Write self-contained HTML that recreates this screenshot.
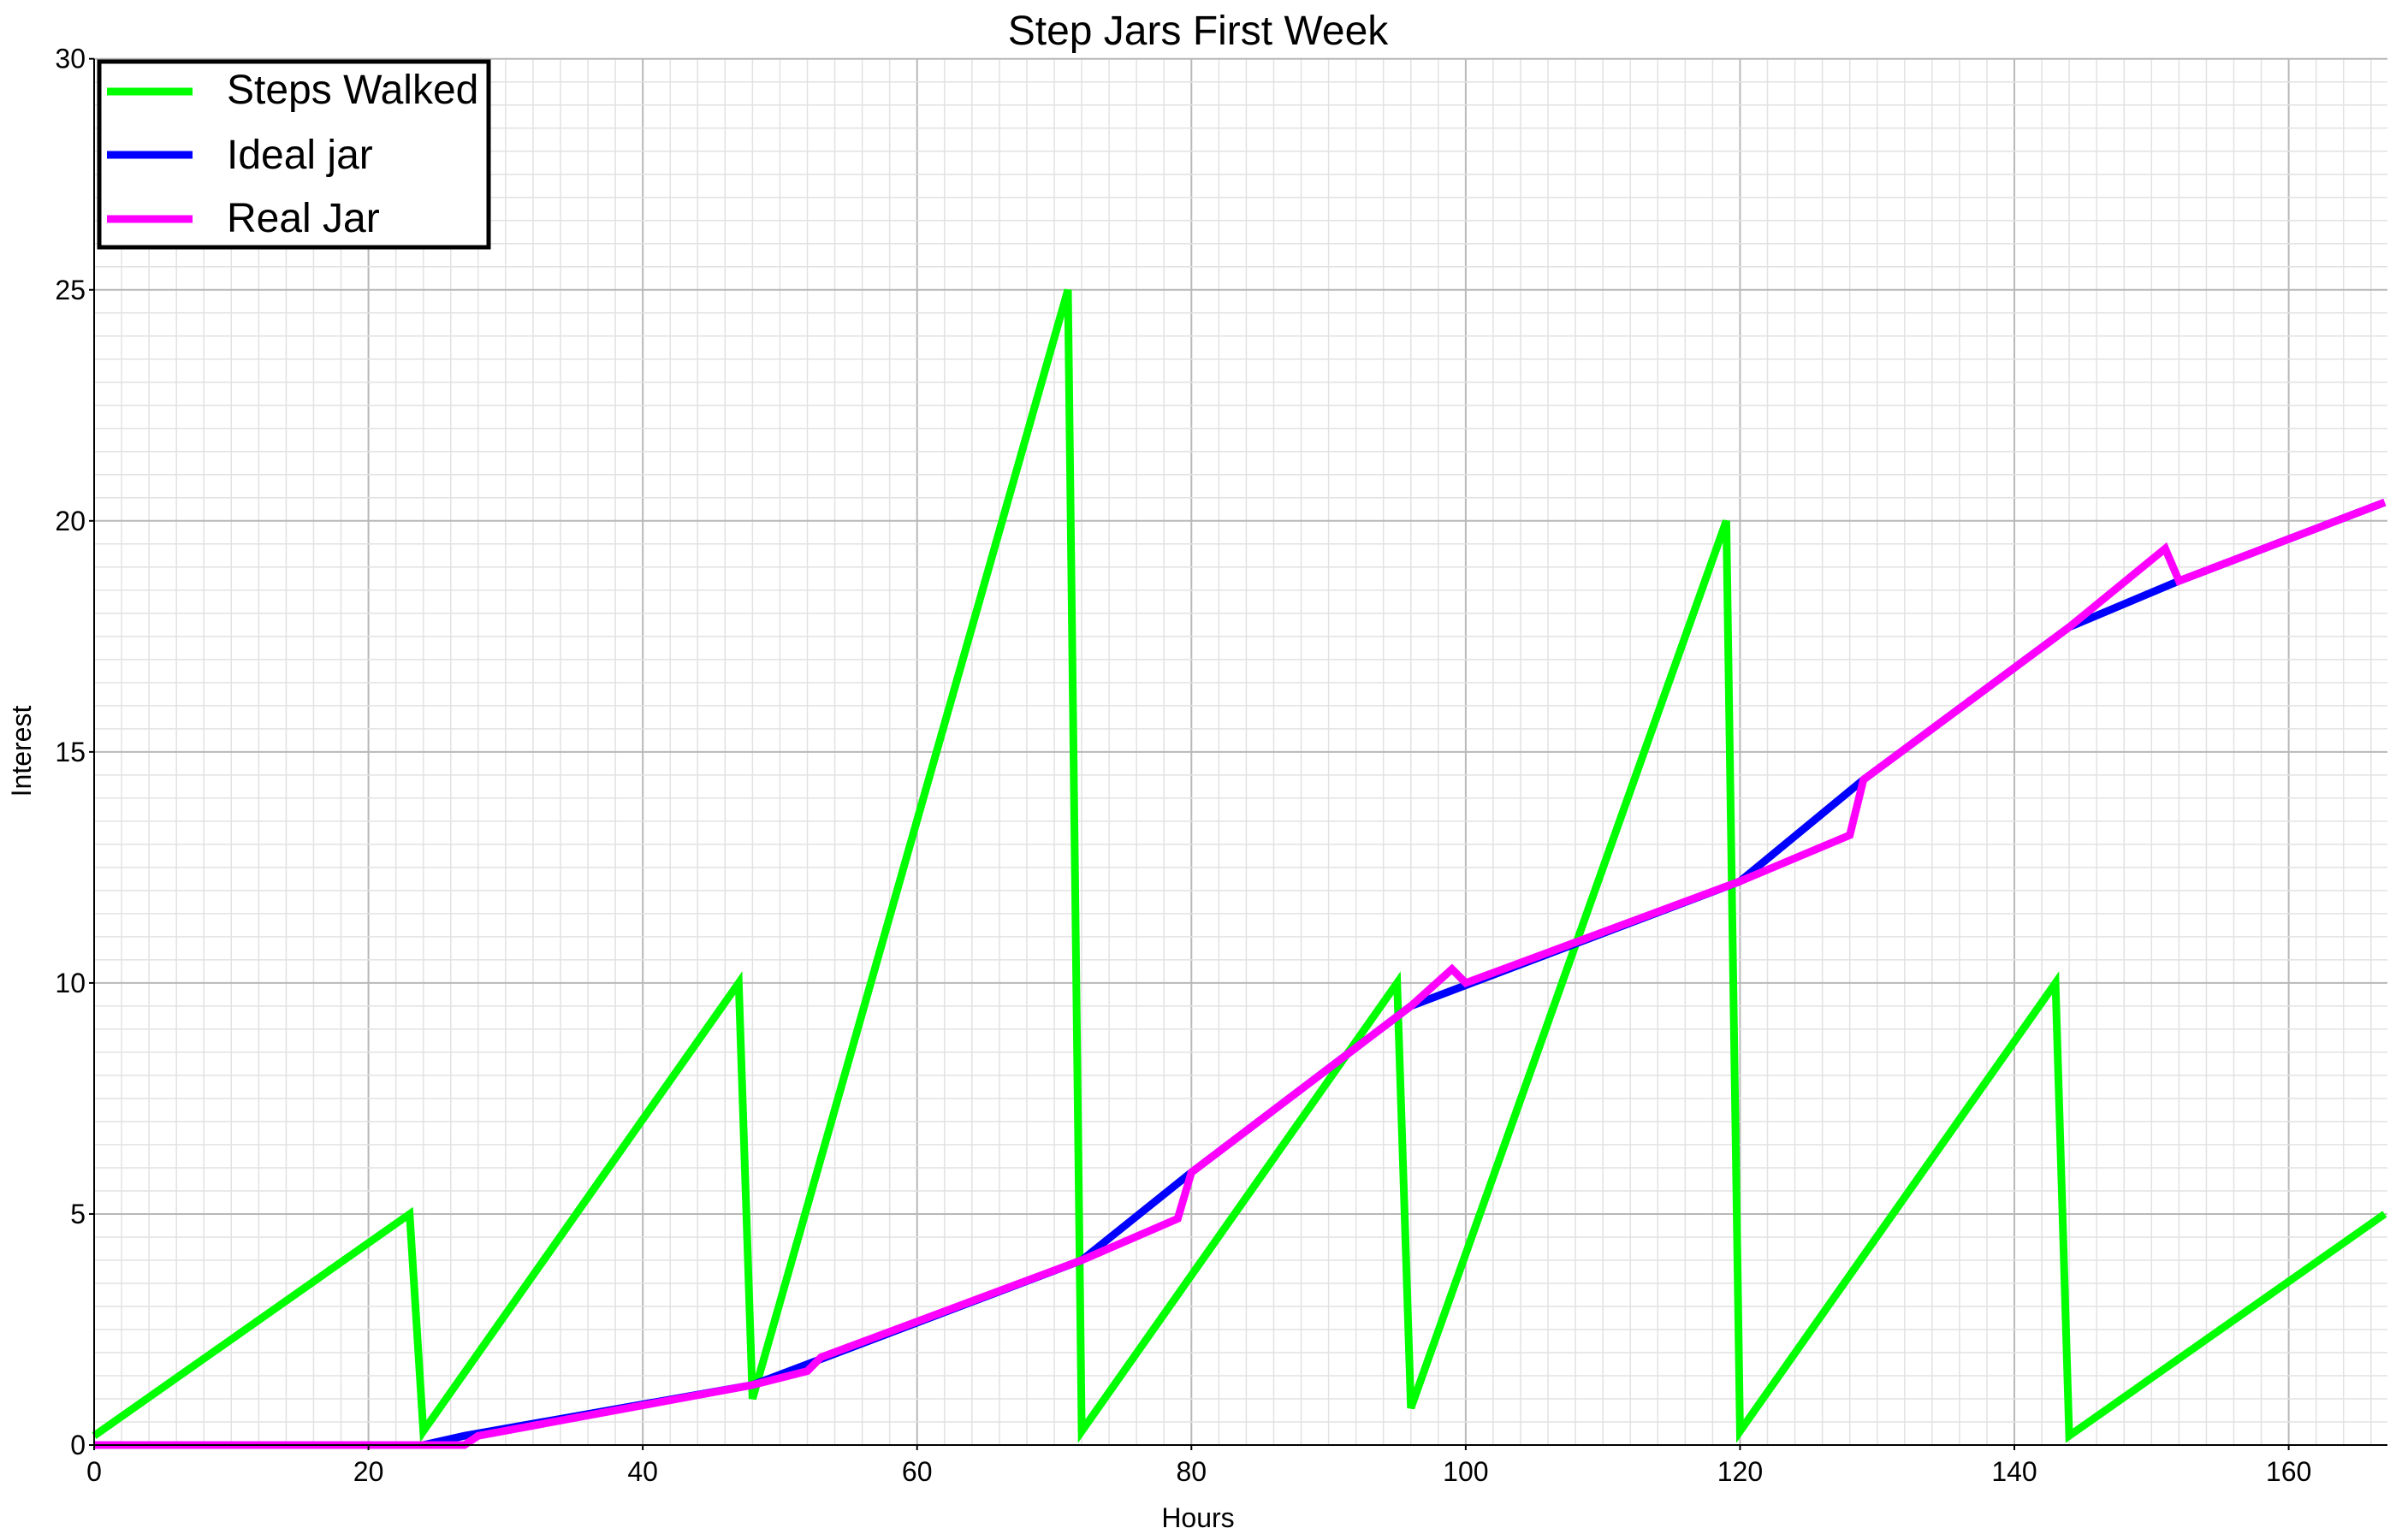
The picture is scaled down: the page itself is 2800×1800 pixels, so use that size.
<!DOCTYPE html>
<html><head><meta charset="utf-8"><style>
html,body{margin:0;padding:0;background:#fff}
svg{display:block;font-family:"Liberation Sans",Arial,sans-serif}
</style></head><body>
<svg id="chart" width="2800" height="1800" viewBox="0 0 2800 1800">
<text x="1400" y="52" text-anchor="middle" font-size="48">Step Jars First Week</text>
<g id="grid"></g>
<g id="series"></g>
<g id="axes"></g>
<text x="1400" y="1785" text-anchor="middle" font-size="32">Hours</text>
<text x="36" y="878" text-anchor="middle" font-size="32" transform="rotate(-90 36 878)">Interest</text>
<g>
<rect x="116" y="72" width="455" height="217" fill="#fff" stroke="#000" stroke-width="5"/>
<line x1="125" y1="107" x2="225" y2="107" stroke="#00ff00" stroke-width="9"/>
<text x="265" y="121" font-size="48">Steps Walked</text>
<line x1="125" y1="181" x2="225" y2="181" stroke="#0000ff" stroke-width="9"/>
<text x="265" y="197" font-size="48">Ideal jar</text>
<line x1="125" y1="256" x2="225" y2="256" stroke="#ff00ff" stroke-width="9"/>
<text x="265" y="271" font-size="48">Real Jar</text>
</g>
</svg>
<script>
const stepsHours=[0,23,24,47,48,71,72,95,96,119,120,143,144,167];
const stepsValues=[0.2,5,0.3,10,1,25,0.3,10,0.8,20,0.3,10,0.2,5];
const idealHours=[0,24,27,48,72,80,96,120,129,144,152,167];
const idealValues=[0,0,0.2,1.3,4.0,5.9,9.5,12.2,14.4,17.7,18.7,20.4];
const realHours=[0,27,28,48,52,53,72,79,80,96,99,100,120,128,129,144,151,152,167];
const realValues=[0,0,0.2,1.3,1.6,1.9,4.0,4.9,5.9,9.5,10.3,10.0,12.2,13.2,14.4,17.7,19.4,18.7,20.4];
const xTicks=[0,20,40,60,80,100,120,140,160];
const yTicks=[0,5,10,15,20,25,30];

const L=110,R=2790,T=68.7,B=1689,XMAX=167.2,YMAX=30;
const NS="http://www.w3.org/2000/svg";
function xs(h){return L+(R-L)*h/XMAX;}
function ys(v){return B-(B-T)*v/YMAX;}
function mk(tag,attrs,parent){const e=document.createElementNS(NS,tag);for(const k in attrs)e.setAttribute(k,attrs[k]);parent.appendChild(e);return e;}
const grid=document.getElementById('grid'),axes=document.getElementById('axes'),series=document.getElementById('series');
for(let h=0;h<=XMAX;h+=2){
  const major=h%20===0;
  const ln=mk('line',{x1:xs(h),x2:xs(h),y1:T,y2:B,stroke:major?'#b8b8b8':'#e2e2e2','stroke-width':major?2:1.5},grid);
  
  
}
for(let i=0;i<=YMAX*2;i++){
  const v=i/2;const major=v%5===0;
  const ln=mk('line',{x1:L,x2:R,y1:ys(v),y2:ys(v),stroke:major?'#b8b8b8':'#e2e2e2','stroke-width':major?2:1.5},grid);
  
  
}
function path(hs,vs,color,name){
  const d=hs.map((h,i)=>(i?'L':'M')+xs(h).toFixed(1)+' '+ys(vs[i]).toFixed(1)).join(' ');
  const p=mk('path',{d:d,fill:'none',stroke:color,'stroke-width':9,'stroke-linejoin':'miter'},series);
  
  
}
path(stepsHours,stepsValues,'#00ff00','steps-walked-line');
path(idealHours,idealValues,'#0000ff','ideal-jar-line');
path(realHours,realValues,'#ff00ff','real-jar-line');
const xa=mk('line',{x1:L,x2:R,y1:B,y2:B,stroke:'#000','stroke-width':2},axes);


const ya=mk('line',{x1:L,x2:L,y1:T,y2:B,stroke:'#000','stroke-width':2},axes);


xTicks.forEach(h=>{
  const t=mk('line',{x1:xs(h),x2:xs(h),y1:B,y2:B+6,stroke:'#000','stroke-width':2},axes);
  
  
  const tx=mk('text',{x:xs(h),y:B+42,'text-anchor':'middle','font-size':32},axes);
  tx.textContent=h;
  
  
});
yTicks.forEach(v=>{
  const t=mk('line',{x1:L-6,x2:L,y1:ys(v),y2:ys(v),stroke:'#000','stroke-width':2},axes);
  
  
  const tx=mk('text',{x:L-10,y:ys(v)+11,'text-anchor':'end','font-size':32},axes);
  tx.textContent=v;
  
  
});
</script>
</body></html>
